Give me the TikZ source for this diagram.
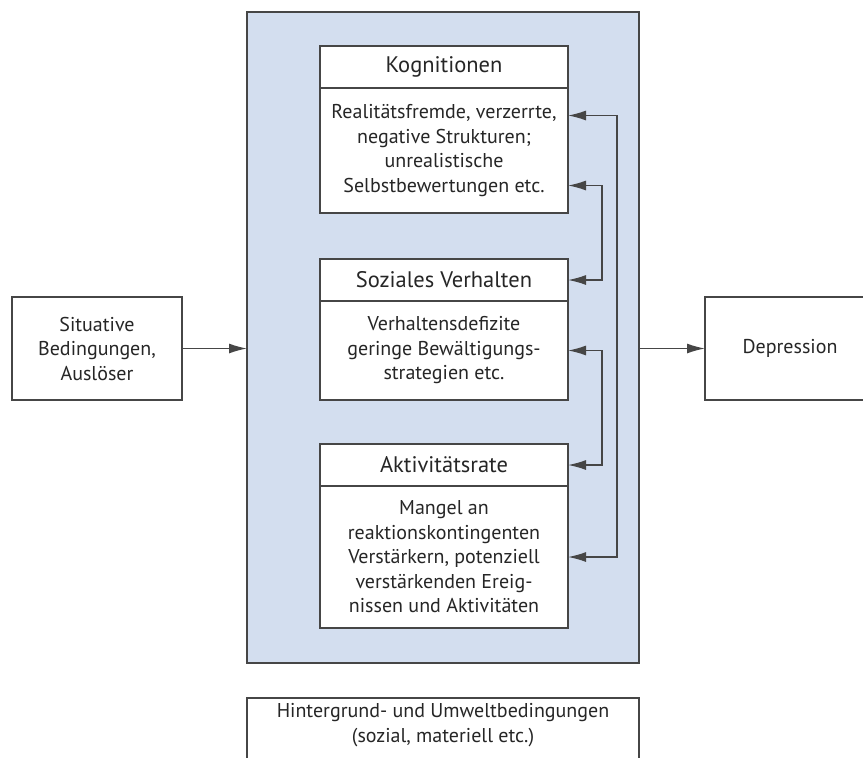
\documentclass[tikz,border=0pt]{standalone}
\usepackage{fontspec}
\setmainfont{PT Sans}
\usetikzlibrary{arrows.meta,positioning}
\definecolor{panelblue}{RGB}{211,222,239}
\definecolor{edgegray}{RGB}{70,70,70}
\definecolor{textgray}{RGB}{38,38,38}
\begin{document}
\begin{tikzpicture}
  [x=1pt,y=-1pt,
   every node/.style={font=\fontsize{20}{24.5}\selectfont,text=textgray,outer sep=0pt},
   box/.style={draw=edgegray,line width=1.6pt,fill=white,align=center},
   head/.style={box,minimum width=248pt,minimum height=42pt,font=\fontsize{22.5}{26}\selectfont},
   link/.style={draw=edgegray,line width=1.4pt,{Latex[length=18pt,width=10pt]}-{Latex[length=18pt,width=10pt]}},
   flow/.style={draw=edgegray,line width=1.4pt,-{Latex[length=18pt,width=10pt]}}]
\useasboundingbox (0,0) rectangle (863,758);
\clip (0,0) rectangle (863,758);

% blue panel
\node (core)[draw=edgegray,line width=1.6pt,fill=panelblue,minimum width=392pt,minimum height=651pt] at (443,337.5) {};

\node (kog)[head] at (444,67) {Kognitionen};
\node (kogtext)[box,minimum width=248pt,minimum height=125pt,below=0pt of kog]
  {Realitätsfremde, verzerrte,\\negative Strukturen;\\unrealistische\\Selbstbewertungen etc.};
\node (sozhead)[head] at (444,280) {Soziales Verhalten};
\node (soztext)[box,minimum width=248pt,minimum height=99pt,below=0pt of sozhead]
  {Verhaltensdefizite\\geringe Bewältigungs-\\strategien etc.};
\node (akthead)[head] at (444,465) {Aktivitätsrate};
\node (akttext)[box,minimum width=248pt,minimum height=142pt,below=0pt of akthead]
  {Mangel an\\reaktionskontingenten\\Verstärkern, potenziell\\verstärkenden Ereig-\\nissen und Aktivitäten};

\node (situ)[box,minimum width=170pt,minimum height=103pt] at (97,348.5) {Situative\\Bedingungen,\\Auslöser};
\node (dep)[box,minimum width=170pt,minimum height=103pt] at (790,348.5) {Depression};

\node (umwelt)[box,anchor=north,minimum width=392pt,minimum height=120pt] at (443,698) {};
\node (umwelttext)[align=center,anchor=north] at ([yshift=-2pt]umwelt.north)
  {Hintergrund- und Umweltbedingungen\\(sozial, materiell etc.)};

\draw[flow] (situ.east) -- (situ.east -| core.west);
\draw[flow] (core.east |- dep.west) -- (dep.west);

\foreach \from/\dy/\to/\dx in {kogtext/35/akttext/49,kogtext/-35/sozhead/34,soztext/0/akthead/34}
  \draw[link] ([yshift=\dy pt]\from.east) -- ++(\dx,0) |- (\to.east);
\end{tikzpicture}
\end{document}
